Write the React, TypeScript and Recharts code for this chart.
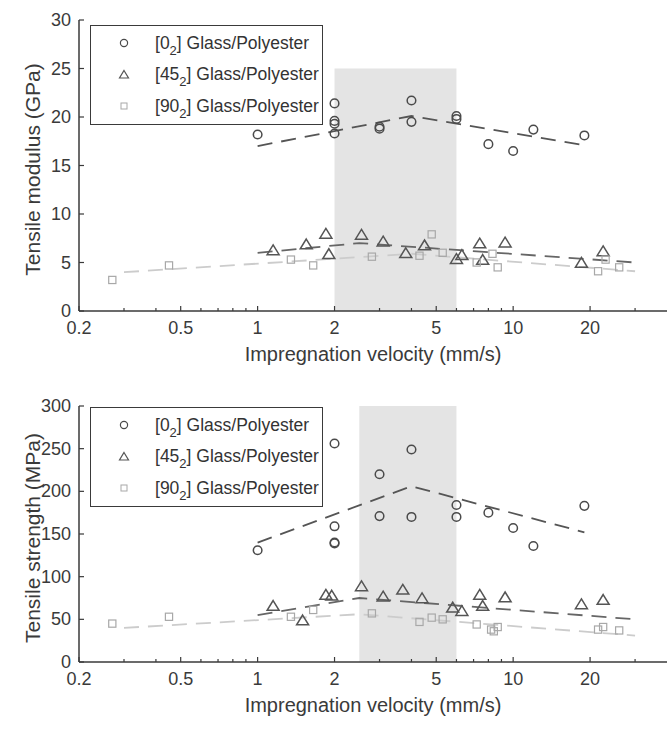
import { ComposedChart, Scatter, XAxis, YAxis, ReferenceArea } from "recharts";

// velocity axis ticks (log scale, MATLAB-like minor ticks)
const majorTicks = [0.2, 0.5, 1, 2, 5, 10, 20];
const allTicks = [0.2, 0.3, 0.4, 0.5, 0.6, 0.7, 0.8, 0.9, 1, 2, 3, 4, 5, 6, 7, 8, 9, 10, 20, 30];

const seriesNames = ["0", "45", "90"];

// tensile modulus (GPa)
const mod0V = [1, 2, 2, 2, 2, 3, 3, 4, 4, 6, 6, 8, 10, 12, 19];
const mod0Y = [18.2, 21.4, 19.6, 19.3, 18.3, 18.8, 19.0, 21.7, 19.5, 20.1, 19.8, 17.2, 16.5, 18.7, 18.1];
const mod45V = [1.15, 1.55, 1.85, 1.9, 2.55, 3.1, 3.8, 4.5, 6.0, 6.3, 7.4, 7.6, 9.3, 18.5, 22.5];
const mod45Y = [6.2, 6.8, 7.9, 5.8, 7.8, 7.1, 5.9, 6.7, 5.3, 5.7, 6.9, 5.2, 7.0, 4.9, 6.1];
const mod90V = [0.27, 0.45, 1.35, 1.65, 2.8, 4.3, 4.8, 5.3, 7.2, 8.3, 8.7, 21.5, 23, 26];
const mod90Y = [3.2, 4.7, 5.3, 4.7, 5.6, 5.7, 7.9, 6.0, 5.0, 5.9, 4.5, 4.1, 5.3, 4.5];
const mod0TrendV = [1, 4, 19];
const mod0TrendY = [17.0, 20.1, 17.1];
const mod45TrendV = [1, 2.5, 30];
const mod45TrendY = [6.0, 7.0, 5.0];
const mod90TrendV = [0.3, 4, 30];
const mod90TrendY = [4.0, 5.9, 4.1];

// tensile strength (MPa)
const str0V = [1, 2, 2, 2, 2, 3, 3, 4, 4, 6, 6, 8, 10, 12, 19];
const str0Y = [131, 256, 159, 140, 139, 220, 171, 249, 170, 184, 170, 175, 157, 136, 183];
const str45V = [1.15, 1.5, 1.85, 1.95, 2.55, 3.1, 3.7, 4.4, 5.8, 6.3, 7.4, 7.6, 9.3, 18.5, 22.5];
const str45Y = [65, 48, 78, 77, 88, 76, 84, 74, 63, 59, 78, 65, 75, 67, 72];
const str90V = [0.27, 0.45, 1.35, 1.65, 2.8, 4.3, 4.8, 5.3, 7.2, 8.2, 8.4, 8.7, 21.5, 22.5, 26];
const str90Y = [45, 53, 53, 61, 57, 47, 52, 50, 44, 38, 36, 41, 38, 41, 37];
const str0TrendV = [1, 4, 19];
const str0TrendY = [140, 206, 152];
const str45TrendV = [1, 2.5, 30];
const str45TrendY = [55, 75, 50];
const str90TrendV = [0.3, 2.5, 30];
const str90TrendY = [40, 56, 31];

const zip = (xs: number[], ys: number[]) => xs.map((x, i) => ({ x, y: ys[i] }));

const FONT = "'Liberation Sans', Arial, Helvetica, sans-serif";
const AXIS = "#3a3a3a";
const C0 = "#4a4a4a";
const C45 = "#555555";
const C90 = "#a8a8a8";

const CircleMark = (p: any) => (
  <circle cx={p.cx} cy={p.cy} r={4.3} fill="none" stroke={C0} strokeWidth={1.5} />
);
const TriMark = (p: any) => (
  <path
    d={`M${p.cx},${p.cy - 6} L${p.cx + 6},${p.cy + 3.8} L${p.cx - 6},${p.cy + 3.8} Z`}
    fill="none"
    stroke={C45}
    strokeWidth={1.5}
  />
);
const SquareMark = (p: any) => (
  <rect x={p.cx - 3.6} y={p.cy - 3.6} width={7.2} height={7.2} fill="none" stroke={C90} strokeWidth={1.2} />
);
const NoMark = () => <g />;

const XTick = ({ x, y, payload }: any) => {
  const v = payload.value;
  const major = majorTicks.includes(v);
  return (
    <g>
      <line x1={x} x2={x} y1={y} y2={y - (major ? 5 : 3)} stroke={AXIS} strokeWidth={1.2} />
      {major && (
        <text x={x} y={y + 23} textAnchor="middle" fontSize={18} fill="#3a3a3a" fontFamily={FONT}>
          {v}
        </text>
      )}
    </g>
  );
};

const YTick = ({ x, y, payload }: any) => (
  <g>
    <line x1={x} x2={x + 5} y1={y} y2={y} stroke={AXIS} strokeWidth={1.2} />
    <text x={x - 8} y={y + 6} textAnchor="end" fontSize={18} fill="#3a3a3a" fontFamily={FONT}>
      {payload.value}
    </text>
  </g>
);

function LegendBox({ top }: { top: number }) {
  const row = (name: string, mark: any, i: number) => (
    <div key={name} style={{ position: "absolute", left: 0, top: 17 + i * 31.5 - 12, height: 24, display: "flex", alignItems: "center" }}>
      <svg width={60} height={24} style={{ display: "block" }}>
        {mark}
      </svg>
      <span style={{ fontSize: 17.5, color: "#333", whiteSpace: "nowrap", marginLeft: 4 }}>
        [{name}
        <span style={{ fontSize: 13, position: "relative", top: 6 }}>2</span>] Glass/Polyester
      </span>
    </div>
  );
  const marks = [
    <circle cx={33} cy={12} r={3.6} fill="none" stroke={C0} strokeWidth={1.2} />,
    <path d="M33,7.5 L37.5,15 L28.5,15 Z" fill="none" stroke={C45} strokeWidth={1.2} />,
    <rect x={30} y={9} width={6} height={6} fill="none" stroke={C90} strokeWidth={1} />,
  ];
  return (
    <div
      style={{
        position: "absolute",
        left: 90,
        top,
        width: 233,
        height: 100,
        border: `1.5px solid ${AXIS}`,
        background: "#fff",
        fontFamily: FONT,
        boxSizing: "border-box",
      }}
    >
      {seriesNames.map((n, i) => row(n, marks[i], i))}
    </div>
  );
}

function Panel(props: {
  sets: { x: number; y: number }[][];
  trends: { x: number; y: number }[][];
  yMax: number;
  yTicks: number[];
  shade: [number, number, number];
  yLabel: string;
  marginTop: number;
  xAxisHeight: number;
  legendTop: number;
}) {
  const { sets, trends, yMax, yTicks, shade, yLabel, marginTop, xAxisHeight, legendTop } = props;
  const marks = [CircleMark, TriMark, SquareMark];
  const trendStyle = [
    { stroke: "#555", strokeWidth: 1.8, strokeDasharray: "15 9" },
    { stroke: "#666", strokeWidth: 1.8, strokeDasharray: "15 9" },
    { stroke: "#cccccc", strokeWidth: 1.8, strokeDasharray: "15 9" },
  ];
  return (
    <div style={{ position: "relative", width: 667, height: 375 }}>
      <ComposedChart width={667} height={375} margin={{ top: marginTop, right: 0, bottom: 0, left: 0 }}>
        <ReferenceArea x1={shade[0]} x2={shade[1]} y1={0} y2={shade[2]} fill="#e4e4e4" fillOpacity={1} stroke="none" />
        <XAxis
          type="number"
          dataKey="x"
          scale="log"
          domain={[0.2, 40]}
          allowDataOverflow
          ticks={allTicks}
          interval={0}
          tickSize={0}
          tickMargin={0}
          tickLine={false}
          tick={<XTick />}
          height={xAxisHeight}
          axisLine={{ stroke: AXIS, strokeWidth: 1.5 }}
          label={{
            content: (p: any) => (
              <text
                x={p.viewBox.x + p.viewBox.width / 2}
                y={p.viewBox.y + 50}
                textAnchor="middle"
                fontSize={20}
                fill="#3a3a3a"
                fontFamily={FONT}
              >
                Impregnation velocity (mm/s)
              </text>
            ),
          }}
        />
        <YAxis
          type="number"
          dataKey="y"
          domain={[0, yMax]}
          ticks={yTicks}
          interval={0}
          width={79}
          tickSize={0}
          tickMargin={0}
          tickLine={false}
          tick={<YTick />}
          axisLine={{ stroke: AXIS, strokeWidth: 1.5 }}
          label={{
            content: (p: any) => (
              <text
                transform={`translate(32, ${p.viewBox.y + p.viewBox.height / 2 + 4}) rotate(-90)`}
                textAnchor="middle"
                dominantBaseline="central"
                fontSize={21}
                fill="#3a3a3a"
                fontFamily={FONT}
              >
                {yLabel}
              </text>
            ),
          }}
        />
        {trends.map((t, i) => (
          <Scatter
            key={`t${i}`}
            data={t}
            line={trendStyle[i]}
            shape={NoMark}
            legendType="none"
            isAnimationActive={false}
          />
        ))}
        {sets.map((s, i) => (
          <Scatter key={`s${i}`} data={s} shape={marks[i]} legendType="none" isAnimationActive={false} />
        ))}
      </ComposedChart>
      <LegendBox top={legendTop} />
    </div>
  );
}

export default function App() {
  return (
    <div style={{ position: "absolute", left: 0, top: 0, width: 667, height: 750, background: "#fff" }}>
      <Panel
        sets={[zip(mod0V, mod0Y), zip(mod45V, mod45Y), zip(mod90V, mod90Y)]}
        trends={[zip(mod0TrendV, mod0TrendY), zip(mod45TrendV, mod45TrendY), zip(mod90TrendV, mod90TrendY)]}
        yMax={30}
        yTicks={[0, 5, 10, 15, 20, 25, 30]}
        shade={[2, 6, 25]}
        yLabel="Tensile modulus (GPa)"
        marginTop={20}
        xAxisHeight={64}
        legendTop={25}
      />
      <Panel
        sets={[zip(str0V, str0Y), zip(str45V, str45Y), zip(str90V, str90Y)]}
        trends={[zip(str0TrendV, str0TrendY), zip(str45TrendV, str45TrendY), zip(str90TrendV, str90TrendY)]}
        yMax={300}
        yTicks={[0, 50, 100, 150, 200, 250, 300]}
        shade={[2.5, 6, 300]}
        yLabel="Tensile strength (MPa)"
        marginTop={31}
        xAxisHeight={88}
        legendTop={32}
      />
    </div>
  );
}
